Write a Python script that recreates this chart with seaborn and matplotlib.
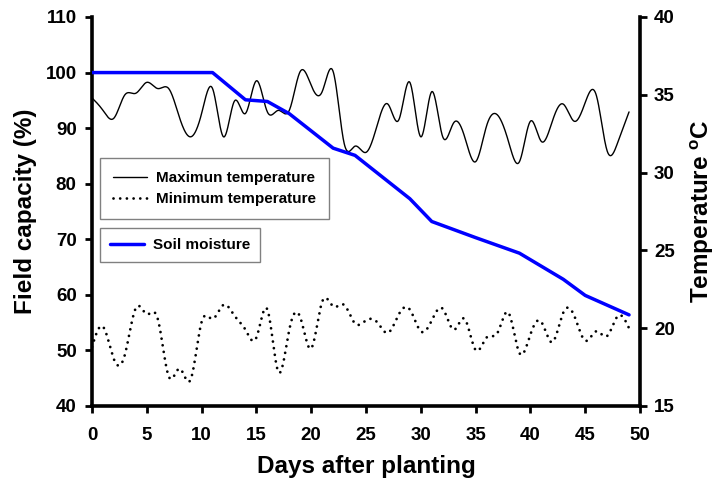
import numpy as np
import pandas as pd
import matplotlib
matplotlib.use("Agg")
import matplotlib.pyplot as plt
from matplotlib.lines import Line2D
import seaborn as sns

# ---------------- data ----------------
days = list(range(50))
max_temp = [34.8, 34.0, 33.5, 35.0, 35.1, 35.8, 35.4, 35.4, 33.5, 32.3,
            33.8, 35.4, 32.3, 34.6, 33.8, 35.9, 33.9, 34.0, 34.0, 36.5,
            35.6, 35.2, 36.5, 31.9, 31.7, 31.3, 33.0, 34.4, 33.4, 35.8,
            32.3, 35.2, 32.3, 33.2, 32.3, 30.7, 33.0, 33.7, 32.0, 30.7,
            33.3, 32.0, 33.3, 34.4, 33.3, 34.5, 35.0, 31.4, 32.0, 33.9]
min_temp = [18.8, 20.1, 18.0, 18.3, 21.3, 20.9, 20.6, 16.9, 17.4, 16.7,
            20.4, 20.6, 21.5, 20.8, 19.9, 19.4, 21.2, 17.2, 19.9, 20.7,
            18.7, 21.7, 21.4, 21.5, 20.3, 20.5, 20.4, 19.7, 20.9, 21.2,
            19.8, 20.5, 21.25, 19.9, 20.6, 18.6, 19.4, 19.7, 21.0, 18.4,
            19.6, 20.4, 19.1, 21.0, 20.8, 19.2, 19.8, 19.5, 20.8, 20.0]
soil_days = [0, 11, 14, 16, 18, 22, 24, 29, 31, 35, 39, 43, 45, 49]
soil_moisture = [100, 100, 95.1, 94.8, 92.6, 86.4, 85.1, 77.3, 73.2, 70.3,
                 67.5, 62.8, 59.9, 56.4]

x_ticks = list(range(0, 51, 5))
left_ticks = list(range(40, 111, 10))
right_ticks = list(range(15, 41, 5))


def spline_curve(x, y, n=1500):
    """Natural cubic spline through the points (rendering only)."""
    x = np.asarray(x, float)
    y = np.asarray(y, float)
    m = len(x)
    h = np.diff(x)
    A = np.zeros((m, m))
    r = np.zeros(m)
    A[0, 0] = A[-1, -1] = 1.0
    for i in range(1, m - 1):
        A[i, i - 1] = h[i - 1]
        A[i, i] = 2 * (h[i - 1] + h[i])
        A[i, i + 1] = h[i]
        r[i] = 6 * ((y[i + 1] - y[i]) / h[i] - (y[i] - y[i - 1]) / h[i - 1])
    M = np.linalg.solve(A, r)
    xs = np.linspace(x[0], x[-1], n)
    idx = np.clip(np.searchsorted(x, xs) - 1, 0, m - 2)
    x0, x1 = x[idx], x[idx + 1]
    hh = x1 - x0
    ys = (M[idx] * (x1 - xs) ** 3 / (6 * hh) + M[idx + 1] * (xs - x0) ** 3 / (6 * hh)
          + (y[idx] / hh - M[idx] * hh / 6) * (x1 - xs)
          + (y[idx + 1] / hh - M[idx + 1] * hh / 6) * (xs - x0))
    return xs, ys


sns.set_style("ticks")
plt.rcParams["font.family"] = ["Liberation Sans", "DejaVu Sans"]
plt.rcParams["font.weight"] = "bold"
plt.rcParams["text.color"] = "black"
plt.rcParams["axes.labelcolor"] = "black"
plt.rcParams["xtick.color"] = "black"
plt.rcParams["ytick.color"] = "black"
plt.rcParams["mathtext.fontset"] = "custom"
plt.rcParams["mathtext.rm"] = "Liberation Sans:bold"
plt.rcParams["mathtext.bf"] = "Liberation Sans:bold"

fig = plt.figure(figsize=(7.17, 4.83), dpi=100)
ax = fig.add_axes([92 / 717, 1 - 406 / 483, 548 / 717, 389 / 483])
ax2 = ax.twinx()

# soil moisture (left axis)
soil_df = pd.DataFrame({"day": soil_days, "fc": soil_moisture})
sns.lineplot(data=soil_df, x="day", y="fc", ax=ax, color="#0000FF", lw=2.5,
             estimator=None, sort=False, zorder=5)

# temperatures (right axis)
xs, ys = spline_curve(days, max_temp)
sns.lineplot(x=xs, y=ys, ax=ax2, color="black", lw=1.0, estimator=None, sort=False)
xs2, ys2 = spline_curve(days, min_temp)
sns.lineplot(x=xs2, y=ys2, ax=ax2, color="black", lw=2.0, estimator=None, sort=False,
             linestyle=(0, (0.01, 2.4)), dash_capstyle="round")

ax.set_zorder(ax2.get_zorder() + 1)
ax.patch.set_visible(False)

ax.set_xlim(0, 50)
ax.set_ylim(40, 110)
ax2.set_ylim(15, 40)
ax.set_xticks(x_ticks)
ax.set_yticks(left_ticks)
ax2.set_yticks(right_ticks)
ax.set_xticklabels([str(t) for t in x_ticks], fontweight="bold")
ax.set_yticklabels([str(t) for t in left_ticks], fontweight="bold")
ax2.set_yticklabels([str(t) for t in right_ticks], fontweight="bold")

for a in (ax, ax2):
    a.spines["top"].set_visible(False)
    for s in ("left", "right", "bottom"):
        a.spines[s].set_linewidth(2.6)
        a.spines[s].set_color("black")
    a.tick_params(direction="out", length=5, width=2, labelsize=13.5, colors="black",
                  labelcolor="black")
ax.tick_params(axis="x", pad=10)
ax.tick_params(axis="y", pad=6)
ax2.tick_params(axis="y", pad=5)
ax.spines["right"].set_visible(False)
ax2.spines["left"].set_visible(False)
ax2.spines["bottom"].set_visible(False)

ax.set_xlabel("Days after planting", fontsize=17.5, fontweight="bold", labelpad=8,
              color="black")
ax.set_ylabel("Field capacity (%)", fontsize=17.5, fontweight="bold", labelpad=6,
              color="black")
ax2.set_ylabel("Temperature $^{\\mathbf{o}}$C", fontsize=17.5, fontweight="bold",
               labelpad=10, color="black")

# legends
h1 = [Line2D([0], [0], color="black", lw=1.0),
      Line2D([0], [0], color="black", lw=2.0, linestyle=(0, (0.01, 2.4)),
             dash_capstyle="round")]
leg1 = ax.legend(h1, ["Maximun temperature", "Minimum temperature"],
                 loc="upper left", bbox_to_anchor=(8 / 548, (406 - 158) / 389),
                 borderaxespad=0, frameon=True, fancybox=False, framealpha=1,
                 edgecolor="#808080", prop={"size": 11, "weight": "bold"},
                 handlelength=2.2, handletextpad=0.6, labelspacing=0.45,
                 borderpad=0.85)
leg1.get_frame().set_linewidth(1.0)
for t in leg1.get_texts():
    t.set_color("black")
ax.add_artist(leg1)
h2 = [Line2D([0], [0], color="#0000FF", lw=2.5)]
leg2 = ax.legend(h2, ["Soil moisture"], loc="upper left",
                 bbox_to_anchor=(8 / 548, (406 - 228) / 389),
                 borderaxespad=0, frameon=True, fancybox=False, framealpha=1,
                 edgecolor="#808080", prop={"size": 11, "weight": "bold"},
                 handlelength=2.2, handletextpad=0.6, borderpad=0.65)
leg2.get_frame().set_linewidth(1.0)
for t in leg2.get_texts():
    t.set_color("black")

fig.savefig("out.png", dpi=100)
